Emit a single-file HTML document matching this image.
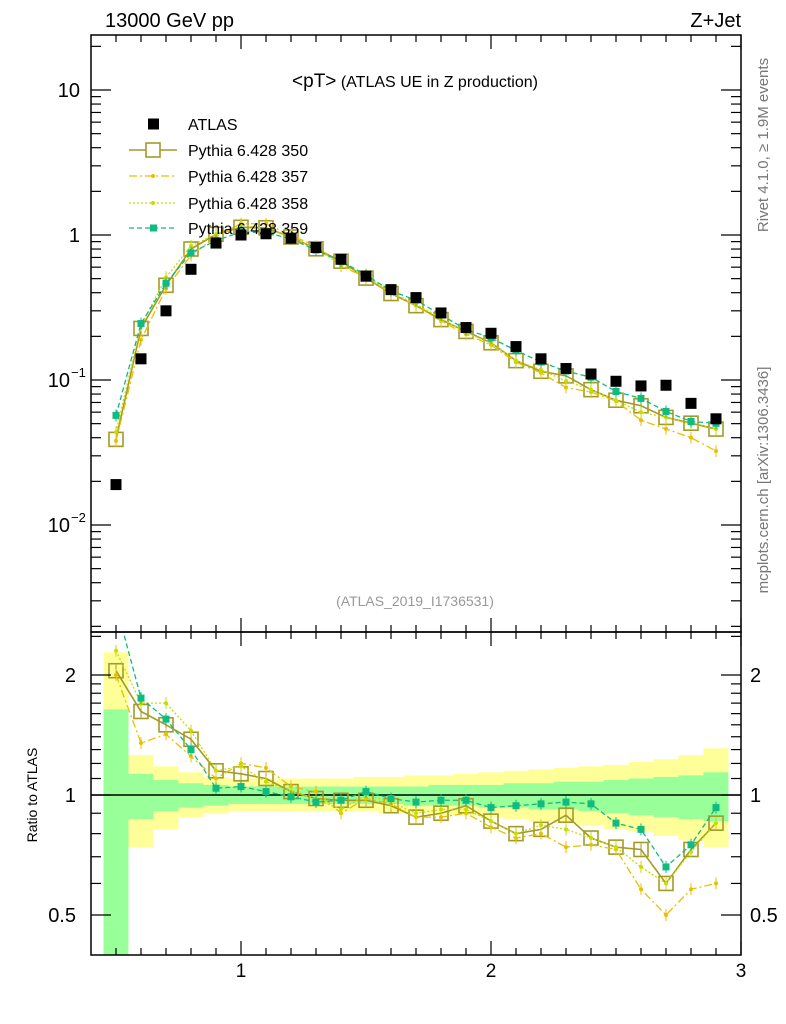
<!DOCTYPE html>
<html><head><meta charset="utf-8"><style>
html,body{margin:0;padding:0;background:#fff;}
svg{display:block;font-family:"Liberation Sans",sans-serif;}
</style></head><body>
<svg id="chart" width="786" height="1024" viewBox="0 0 786 1024" xmlns="http://www.w3.org/2000/svg">
<defs>
<clipPath id="mainClip"><rect x="91" y="35" width="650" height="597"/></clipPath>
<clipPath id="ratioClip"><rect x="91" y="632" width="650" height="323"/></clipPath>
</defs>
<rect width="786" height="1024" fill="#fff"/>
<g id="bands" clip-path="url(#ratioClip)"></g>
<g id="ratioMarks" clip-path="url(#ratioClip)"></g>
<g id="mainMarks" clip-path="url(#mainClip)"></g>
<g id="axes"></g>
<text x="105" y="27" font-size="20">13000 GeV pp</text>
<text x="741" y="27" font-size="20" text-anchor="end">Z+Jet</text>
<text x="415" y="87" text-anchor="middle"><tspan font-size="19">&lt;pT&gt;</tspan><tspan font-size="16"> (ATLAS UE in Z production)</tspan></text>
<text x="415" y="606" text-anchor="middle" font-size="14" fill="#999">(ATLAS_2019_I1736531)</text>
<text transform="translate(768,145) rotate(-90)" text-anchor="middle" font-size="15" fill="#777">Rivet 4.1.0, ≥ 1.9M events</text>
<text transform="translate(768,480) rotate(-90)" text-anchor="middle" font-size="15" fill="#777">mcplots.cern.ch [arXiv:1306.3436]</text>
<text transform="translate(37,795) rotate(-90)" text-anchor="middle" font-size="14">Ratio to ATLAS</text>
<g id="legend"></g>
<script>
const xs = [0.5,0.6,0.7,0.8,0.9,1.0,1.1,1.2,1.3,1.4,1.5,1.6,1.7,1.8,1.9,2.0,2.1,2.2,2.3,2.4,2.5,2.6,2.7,2.8,2.9];
const atlas = [0.019,0.14,0.30,0.58,0.88,1.0,1.02,0.95,0.82,0.68,0.52,0.42,0.37,0.29,0.23,0.21,0.17,0.14,0.12,0.11,0.098,0.091,0.092,0.069,0.054];
const r350 = [2.05,1.62,1.5,1.38,1.15,1.13,1.1,1.02,0.98,0.97,0.97,0.94,0.88,0.9,0.94,0.86,0.8,0.82,0.89,0.78,0.74,0.73,0.6,0.73,0.85];
const r357 = [2.0,1.35,1.42,1.25,1.1,1.2,1.17,1.05,1.02,0.9,0.98,0.95,0.88,0.88,0.9,0.83,0.78,0.8,0.74,0.75,0.73,0.58,0.5,0.58,0.6];
const r358 = [2.3,1.7,1.7,1.45,1.15,1.18,1.08,1.02,0.98,0.92,1.0,0.96,0.9,0.92,0.92,0.86,0.8,0.84,0.82,0.78,0.74,0.66,0.6,0.72,0.85];
const r359 = [3.0,1.75,1.55,1.3,1.04,1.05,1.02,0.99,0.96,0.97,1.02,0.98,0.96,0.97,0.97,0.93,0.94,0.95,0.96,0.95,0.85,0.82,0.66,0.75,0.93];
const yellowHi = [2.28,1.26,1.18,1.14,1.11,1.10,1.10,1.10,1.10,1.10,1.11,1.11,1.12,1.12,1.13,1.14,1.15,1.16,1.17,1.18,1.19,1.21,1.23,1.26,1.31];
const greenHi = [1.64,1.13,1.09,1.07,1.06,1.05,1.05,1.05,1.05,1.05,1.05,1.05,1.05,1.06,1.06,1.06,1.07,1.07,1.08,1.08,1.09,1.10,1.11,1.12,1.14];
const greenLo = [0.3,0.87,0.91,0.93,0.94,0.95,0.95,0.95,0.95,0.95,0.95,0.95,0.94,0.94,0.94,0.93,0.93,0.92,0.92,0.91,0.90,0.89,0.88,0.87,0.86];
const yellowLo = [0.3,0.74,0.82,0.88,0.90,0.91,0.91,0.91,0.91,0.91,0.91,0.90,0.90,0.89,0.89,0.88,0.87,0.86,0.85,0.84,0.82,0.81,0.79,0.77,0.74];
const xTicks = [1,2,3];
const xTickLabels = ["1","2","3"];
const ratioTicks = [2,1,0.5];
const ratioTickLabels = ["2","1","0.5"];

const NS="http://www.w3.org/2000/svg";
const X = v => 241 + (v-1)*250;
const Y = v => 235 - Math.log10(v)*145;
const R = v => 795 - Math.log2(v)*120;
function mk(tag, attrs, parent){const e=document.createElementNS(NS,tag);for(const k in attrs)e.setAttribute(k,attrs[k]);parent.appendChild(e);return e;}
const bands=document.getElementById('bands'), rm=document.getElementById('ratioMarks'), mm=document.getElementById('mainMarks'), ax=document.getElementById('axes'), lg=document.getElementById('legend');

xs.forEach((x,i)=>{
  const x0=X(x-0.05), x1=X(x+0.05);
  const y=mk('rect',{x:x0,y:R(yellowHi[i]),width:x1-x0,height:R(yellowLo[i])-R(yellowHi[i]),fill:'#ffff99'},bands);
  
  
  const g=mk('rect',{x:x0,y:R(greenHi[i]),width:x1-x0,height:R(greenLo[i])-R(greenHi[i]),fill:'#99ff99'},bands);
  
  
});
const one=mk('line',{x1:91,x2:741,y1:R(1),y2:R(1),stroke:'#000','stroke-width':1.5},rm);



const series=[
 {name:'350',r:r350,color:'#a39a28',dash:'',w:1.6,marker:'open'},
 {name:'357',r:r357,color:'#e8c000',dash:'8,3,2,3',w:1.3,marker:'dot'},
 {name:'358',r:r358,color:'#c8dc00',dash:'2,2',w:1.3,marker:'dot'},
 {name:'359',r:r359,color:'#10bb80',dash:'5,3',w:1.3,marker:'sq'}
];
function drawSeries(s, group, vals, yf){
  const pts=xs.map((x,i)=>X(x)+','+yf(vals[i])).join(' ');
  const l=mk('polyline',{points:pts,fill:'none',stroke:s.color,'stroke-width':s.w,'stroke-dasharray':s.dash},group);
  
  
  xs.forEach((x,i)=>{
    const cx=X(x), cy=yf(vals[i]);
    const eb=mk('line',{x1:cx,x2:cx,y1:cy-6,y2:cy+6,stroke:s.color,'stroke-width':1},group);
    
    
    let m;
    if(s.marker==='open') m=mk('rect',{x:cx-7,y:cy-7,width:14,height:14,fill:'none',stroke:s.color,'stroke-width':1.6},group);
    else if(s.marker==='sq') m=mk('rect',{x:cx-3.5,y:cy-3.5,width:7,height:7,fill:s.color},group);
    else m=mk('circle',{cx:cx,cy:cy,r:2,fill:s.color},group);
    
    
  });
}
series.forEach(s=>{
  drawSeries(s, rm, s.r, R);
  drawSeries(s, mm, s.r.map((v,i)=>v*atlas[i]), Y);
});
xs.forEach((x,i)=>{
  const m=mk('rect',{x:X(x)-5.5,y:Y(atlas[i])-5.5,width:11,height:11,fill:'#000'},mm);
  
  
});

// frames
[[35,632],[632,955]].forEach(([t,b],k)=>{
  const f=mk('rect',{x:91,y:t,width:650,height:b-t,fill:'none',stroke:'#000','stroke-width':1.5},ax);
  
  
});
function tick(x1,y1,x2,y2){mk('line',{x1,y1,x2,y2,stroke:'#000','stroke-width':1.2},ax);}
// x ticks
for(let v=0.5;v<=3.001;v+=0.1){
  const x=X(v); const major=Math.abs(v-Math.round(v))<1e-6; const L=major?14:7;
  [[35,1],[632,-1],[632,1],[955,-1]].forEach(([y,d])=>tick(x,y,x,y+d*L));
}
xTicks.forEach((v,i)=>{
  const t=mk('text',{x:X(v),y:977,'font-size':19,'text-anchor':'middle'},ax);t.textContent=xTickLabels[i];
  
  
});
// main y log ticks
for(let d=-3;d<=1;d++){
  for(let m=1;m<10;m++){
    const v=m*Math.pow(10,d); const y=Y(v); if(y<35||y>632) continue;
    const L=m===1?20:10; tick(91,y,91+L,y); tick(741,y,741-L,y);
  }
}
[[10,'10',''],[1,'1',''],[0.1,'10','−1'],[0.01,'10','−2']].forEach(([v,b,e])=>{
  const t=mk('text',{x:e?70:80,y:Y(v)+7,'font-size':20,'text-anchor':'end'},ax);t.textContent=b;
  
  
  if(e){const s=mk('text',{x:71,y:Y(v)-3,'font-size':13},ax);s.textContent=e;}
});
// ratio ticks
[0.5,0.6,0.7,0.8,0.9,1,1.1,1.2,1.3,1.4,1.5,1.6,1.7,1.8,1.9,2,2.5].forEach(v=>{
  const y=R(v); if(y<632||y>955) return; const L=(v===1||v===2||v===0.5)?20:10;
  tick(91,y,91+L,y); tick(741,y,741-L,y);
});
ratioTicks.forEach((v,i)=>{
  const a=mk('text',{x:76,y:R(v)+7,'font-size':20,'text-anchor':'end'},ax);a.textContent=ratioTickLabels[i];
  
  
  const b=mk('text',{x:750,y:R(v)+7,'font-size':20},ax);b.textContent=ratioTickLabels[i];
  
  
});
// legend
const rows=[124,150,176,203,228];
const ent=[{n:'ATLAS'}].concat(series);
ent.forEach((s,i)=>{
  const y=rows[i];
  const g=mk('g',{},lg);
  
  
  if(i===0){mk('rect',{x:148,y:y-5.5,width:11,height:11,fill:'#000'},g);}
  else{
    mk('line',{x1:129,x2:177,y1:y,y2:y,stroke:s.color,'stroke-width':s.w,'stroke-dasharray':s.dash},g);
    if(s.marker==='open') mk('rect',{x:146,y:y-7,width:14,height:14,fill:'#fff',stroke:s.color,'stroke-width':1.6},g);
    else if(s.marker==='sq') mk('rect',{x:150,y:y-3.5,width:7,height:7,fill:s.color},g);
    else mk('circle',{cx:153,cy:y,r:2,fill:s.color},g);
  }
  const t=mk('text',{x:188,y:y+6,'font-size':16},g);
  t.textContent=i===0?'ATLAS':'Pythia 6.428 '+s.name;
});
</script>
</svg>
</body></html>
